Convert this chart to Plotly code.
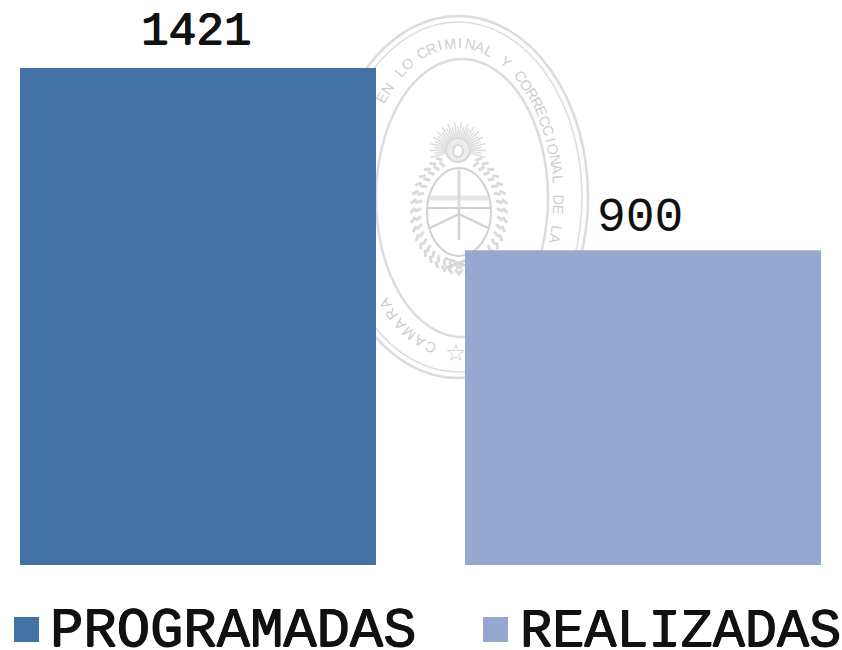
import math
import plotly.graph_objects as go

categories = ["PROGRAMADAS", "REALIZADAS"]
values = [1421, 900]
colors = ["#4472A6", "#95A9D0"]
seal_lower = "CAMARA N"
seal_left = "EN LO "
seal_upper = "CRIMINAL Y CORRECCIONAL DE LA C"

W, H = 842, 650
FONT = "Liberation Mono"
GREY = "#dcdcdc"
INK = "#111111"
HEAVY = "0.8px 0 0 #111111, -0.4px 0 0 #111111, 0 0.5px 0 #111111"


def px(x):
    return x / W


def py(y):
    return 1 - y / H


shapes = []


def ellipse(cx, cy, rx, ry, width=1.6, color=GREY, fill=None):
    shapes.append(dict(type="circle", xref="paper", yref="paper", layer="below",
                       x0=px(cx - rx), x1=px(cx + rx), y0=py(cy + ry), y1=py(cy - ry),
                       line=dict(color=color, width=width),
                       fillcolor=fill if fill else "rgba(0,0,0,0)"))


def line(x0, y0, x1, y1, width=1.4, color=GREY):
    shapes.append(dict(type="line", xref="paper", yref="paper", layer="below",
                       x0=px(x0), x1=px(x1), y0=py(y0), y1=py(y1),
                       line=dict(color=color, width=width)))


# Seal rings
ellipse(458, 197, 130, 181, 2.5)
ellipse(458, 197, 124, 175, 1.5)
ellipse(462, 198, 86, 139, 2.5)

# Emblem: sun rays and face
for deg in range(-105, 106, 7):
    a = math.radians(deg)
    reach = 28 if deg % 2 else 24
    line(458 + 13 * math.sin(a), 150 - 13 * math.cos(a),
         458 + reach * math.sin(a), 150 - reach * math.cos(a), 1.5)
ellipse(458, 150, 12, 12, 2, "#d8d8d8", "#ececec")
ellipse(458, 151, 5, 6, 2, "#d8d8d8", "#ffffff")

# Emblem: wreath of short leaves
for side in (-1, 1):
    for deg in range(22, 176, 9):
        a = math.radians(deg)
        for rad_x, rad_y, lean in ((38, 50, 0.5), (44, 57, 0.9)):
            x = 459 + side * rad_x * math.sin(a)
            y = 213 - rad_y * math.cos(a)
            x2 = x + side * 7 * math.sin(a + lean)
            y2 = y - 7 * math.cos(a + lean)
            line(x, y, x2, y2, 3, "#dadada")
line(445, 268, 472, 258, 2.5, "#d6d6d6")
line(445, 258, 472, 268, 2.5, "#d6d6d6")

# Emblem: shield
ellipse(459, 212, 32, 44, 2, "#d2d2d2", "#ffffff")
line(428, 208, 490, 208, 2, "#d2d2d2")
line(430, 198, 488, 198, 5, "#e6e6e6")
line(459, 170, 459, 208, 3, "#dadada")
line(459, 208, 459, 240, 2.5, "#d2d2d2")
line(430, 228, 459, 214, 2, "#d2d2d2")
line(459, 214, 488, 228, 2, "#d2d2d2")

annotations = []
CX, CY, RX, RY = 458, 198, 100, 155


def seal_run(text, start_deg, spacing):
    """Lay letters along the seal ellipse; a negative spacing walks backwards."""
    t = math.radians(start_deg)
    for ch in text:
        x = CX + RX * math.sin(t)
        y = CY - RY * math.cos(t)
        dx = RX * math.cos(t)
        dy = RY * math.sin(t)
        hidden = (x < 381 and y > 62) or (x > 460 and y > 246)
        if ch != " " and not hidden:
            annotations.append(dict(
                text=ch, xref="paper", yref="paper", x=px(x), y=py(y),
                xanchor="center", yanchor="middle", showarrow=False,
                textangle=math.degrees(math.atan2(dy, dx)),
                font=dict(family="Liberation Sans", size=14.5, color="#cdcdcd")))
        t += spacing / math.hypot(dx, dy)


seal_run(seal_lower, 196, 12.5)
seal_run(seal_left[::-1], 339 - 3.8, -10.5)
seal_run(seal_upper, 339, 10)
annotations.append(dict(text="☆", xref="paper", yref="paper", x=px(456), y=py(353),
                        xanchor="center", yanchor="middle", showarrow=False,
                        font=dict(family="DejaVu Sans", size=24, color="#cdcdcd")))

# Legend
for name, color, sx, tx, fs in zip(categories, colors, (14, 483), (48, 518), (55.5, 53.5)):
    shapes.append(dict(type="rect", xref="paper", yref="paper", layer="above",
                       x0=px(sx), x1=px(sx + 25), y0=py(642), y1=py(617),
                       fillcolor=color, line=dict(width=0)))
    annotations.append(dict(text=name, xref="paper", yref="paper", x=px(tx), y=py(631),
                            xanchor="left", yanchor="middle", showarrow=False,
                            font=dict(family=FONT, size=fs, color=INK, shadow=HEAVY)))

# Value labels, anchored to the bars through the data scales
for cat, val, shift, xs, fs, shadow in zip(categories, values, (8, 3), (-2, -3), (46, 48),
                                            (HEAVY, "none")):
    annotations.append(dict(text=str(val), xref="x", yref="y", x=cat, y=val, yanchor="bottom",
                            xanchor="center", showarrow=False, yshift=shift, xshift=xs,
                            font=dict(family=FONT, size=fs, color=INK, shadow=shadow)))

fig = go.Figure(go.Bar(
    x=categories, y=values, width=0.8,
    marker=dict(color=colors, line=dict(width=0)),
    cliponaxis=False,
))

scale = 497 / 1421
fig.update_layout(
    width=W, height=H, margin=dict(l=0, r=0, t=0, b=0),
    autosize=False, showlegend=False,
    paper_bgcolor="white", plot_bgcolor="rgba(0,0,0,0)",
    shapes=shapes, annotations=annotations,
    xaxis=dict(visible=False, range=[-198 / 445, (W - 198) / 445], fixedrange=True),
    yaxis=dict(visible=False, range=[-(H - 565) / scale, 565 / scale], fixedrange=True),
)
fig.write_html(
    "out.html",
    config=dict(displayModeBar=False),
    post_script="document.body.style.margin='0';document.documentElement.style.overflow='hidden';",
)
